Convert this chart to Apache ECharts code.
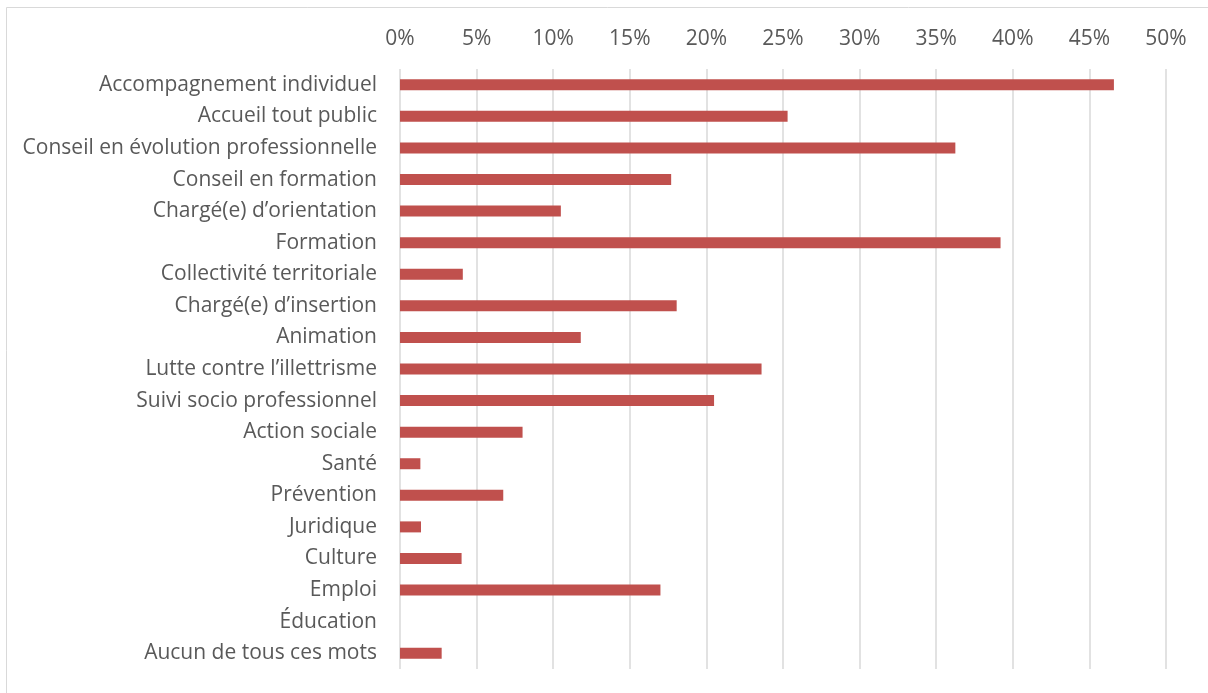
<!DOCTYPE html>
<html>
<head>
<meta charset="utf-8">
<script src="https://cdn.jsdelivr.net/npm/echarts@6/dist/echarts.min.js"></script>
<style>
html,body{margin:0;padding:0;background:#fff;}
#c{width:1208px;height:693px;}
</style>
</head>
<body>
<div id="c"></div>
<script>
var categories = [
  "Accompagnement individuel",
  "Accueil tout public",
  "Conseil en évolution professionnelle",
  "Conseil en formation",
  "Chargé(e) d’orientation",
  "Formation",
  "Collectivité territoriale",
  "Chargé(e) d’insertion",
  "Animation",
  "Lutte contre l’illettrisme",
  "Suivi socio professionnel",
  "Action sociale",
  "Santé",
  "Prévention",
  "Juridique",
  "Culture",
  "Emploi",
  "Éducation",
  "Aucun de tous ces mots"
];
var values = [0.466, 0.253, 0.3625, 0.177, 0.105, 0.392, 0.041, 0.1806, 0.118, 0.236, 0.205, 0.080, 0.0133, 0.0674, 0.0137, 0.0402, 0.170, 0, 0.0272];
var tickMin = 0, tickMax = 0.5, tickStep = 0.05;

var chart = echarts.init(document.getElementById('c'), null, {renderer: 'canvas'});
var FONT = 'Open Sans';
chart.setOption({
  animation: false,
  backgroundColor: '#ffffff',
  graphic: [{
    type: 'rect',
    shape: {x: 6.5, y: 7.5, width: 1400, height: 900},
    style: {fill: 'none', stroke: '#d9d9d9', lineWidth: 1},
    silent: true
  }],
  grid: {left: 400, right: 42, top: 69, bottom: 24, containLabel: false},
  xAxis: {
    type: 'value',
    position: 'top',
    min: tickMin, max: tickMax, interval: tickStep,
    axisLine: {show: false},
    axisTick: {show: false},
    splitLine: {show: true, lineStyle: {color: '#d9d9d9', width: 1.5}},
    axisLabel: {
      margin: 19,
      color: '#595959',
      fontFamily: FONT,
      fontSize: 21,
      formatter: function (v) { return Math.round(v * 100) + '%'; }
    }
  },
  yAxis: {
    type: 'category',
    inverse: true,
    data: categories,
    axisLine: {show: false},
    axisTick: {show: false},
    splitLine: {show: false},
    axisLabel: {margin: 23, color: '#595959', fontFamily: FONT, fontSize: 21}
  },
  series: [{
    type: 'bar',
    data: values,
    barWidth: 11,
    itemStyle: {color: '#c0504d'}
  }]
});
</script>
</body>
</html>
